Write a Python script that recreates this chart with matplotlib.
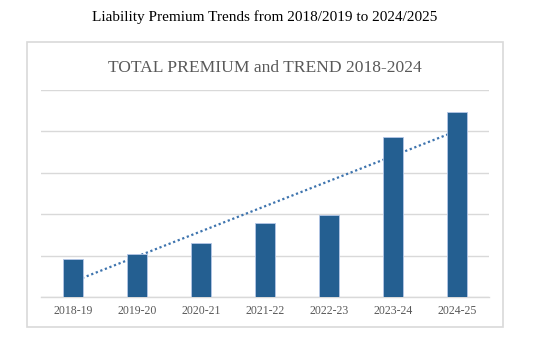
import numpy as np
import matplotlib
matplotlib.use("Agg")
import matplotlib.pyplot as plt
from matplotlib.patches import Rectangle

categories = ["2018-19", "2019-20", "2020-21", "2021-22", "2022-23", "2023-24", "2024-25"]
premium = [0.91, 1.03, 1.31, 1.79, 1.98, 3.87, 4.46]

W, H = 546, 347
fig = plt.figure(figsize=(W / 100, H / 100), dpi=100)
fig.patch.set_facecolor("white")

serif = ["Liberation Serif", "DejaVu Serif"]

fig.text(265 / W, 1 - 17 / H, "Liability Premium Trends from 2018/2019 to 2024/2025",
         ha="center", va="center", fontsize=11, family=serif, color="black")

# chart frame
fig.patches.append(Rectangle((27 / W, 1 - 327 / H), (503 - 27) / W, (327 - 42) / H,
                             transform=fig.transFigure, fill=False,
                             edgecolor="#D9D9D9", linewidth=1.2))

fig.text(265 / W, 1 - 68 / H, "TOTAL PREMIUM and TREND 2018-2024",
         ha="center", va="center", fontsize=12.6, family=serif, color="#595959")

ax = fig.add_axes([41 / W, 1 - 297 / H, (489 - 41) / W, (297 - 90) / H])
x = np.arange(len(categories))
ax.bar(x, premium, width=0.30, color="#245F91", edgecolor="#B4C7E7", linewidth=0.6, zorder=3)

coef = np.polyfit(x, premium, 1)
ax.plot(x, np.polyval(coef, x), linestyle=(0, (1, 1.2)), color="#3E74AE", linewidth=1.6, zorder=2)

ax.set_xlim(-0.5, len(categories) - 0.5)
ax.set_ylim(0, 5)
ax.set_yticks(np.arange(0, 6, 1))
ax.set_yticklabels([])
ax.tick_params(axis="y", length=0)
ax.set_xticks(x)
ax.set_xticklabels(categories, family=serif, fontsize=8.5, color="#595959")
ax.tick_params(axis="x", length=0, pad=6)
ax.grid(axis="y", color="#D9D9D9", linewidth=1.0, zorder=0)
for s in ["top", "right", "left"]:
    ax.spines[s].set_visible(False)
ax.spines["bottom"].set_color("#D9D9D9")
ax.spines["bottom"].set_linewidth(1.0)

fig.savefig("out.png", dpi=100)
